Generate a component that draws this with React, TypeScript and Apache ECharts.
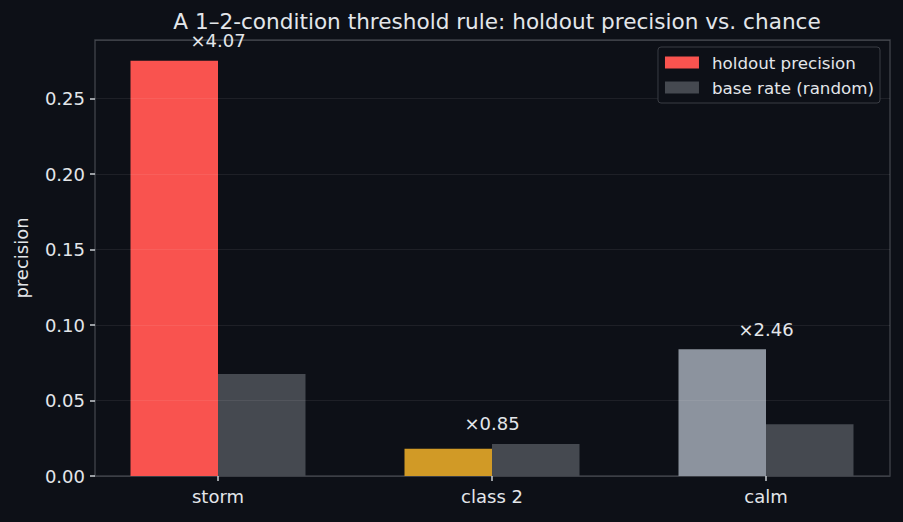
import { useEffect, useRef } from "react";
import * as echarts from "echarts";

const categories = ["storm", "class 2", "calm"];
const holdoutPrecision = [0.275, 0.018, 0.084];
const baseRate = [0.0676, 0.0212, 0.0342];
const liftLabels = ["×4.07", "×0.85", "×2.46"];
const precisionColors = ["#f9534f", "#d19a26", "#8c939e"];

const BG = "#0d1017";
const TEXT = "#e3e6ea";
const FONT = "DejaVu Sans";
const Y_MAX = 0.28875;

export default function App() {
  const chartRef = useRef<HTMLDivElement>(null);

  useEffect(() => {
    if (!chartRef.current) return;
    const chart = echarts.init(chartRef.current, undefined, { renderer: "svg" });

    chart.setOption({
      animation: false,
      backgroundColor: BG,
      textStyle: { fontFamily: FONT },
      title: {
        text: "A 1–2-condition threshold rule: holdout precision vs. chance",
        left: 492,
        textAlign: "center",
        top: 5,
        textStyle: { color: TEXT, fontSize: 21.6, fontWeight: "normal", fontFamily: FONT },
      },
      legend: {
        right: 23,
        top: 47,
        orient: "vertical",
        icon: "rect",
        itemWidth: 34,
        itemHeight: 12,
        itemGap: 8,
        padding: [7, 6, 7, 7],
        backgroundColor: BG,
        borderColor: "#3a3d44",
        borderWidth: 1,
        borderRadius: 3,
        textStyle: { color: TEXT, fontSize: 16.7, fontFamily: FONT, padding: [0, 0, 0, 8] },
        data: [
          { name: "holdout precision", itemStyle: { color: precisionColors[0] } },
          { name: "base rate (random)", itemStyle: { color: "#454950" } },
        ],
      },
      grid: [
        { left: 95, right: 13, top: 40, bottom: 46, show: true, borderColor: "#3a3d44", borderWidth: 1.5, backgroundColor: "transparent" },
        { left: 81, right: 0, top: 40, bottom: 46 },
      ],
      xAxis: [
        { gridIndex: 0, type: "value", min: 0, max: 1, show: false },
        {
          gridIndex: 1,
          type: "category",
          data: categories,
          axisLine: { show: false },
          axisTick: { show: true, alignWithLabel: true, length: 5, lineStyle: { color: "#c8ccd2", width: 1.5 } },
          axisLabel: { color: TEXT, fontSize: 18, margin: 11, fontFamily: FONT },
        },
      ],
      yAxis: [
        {
          gridIndex: 0,
          type: "value",
          min: 0,
          max: Y_MAX,
          interval: 0.05,
          z: 3,
          name: "precision",
          nameLocation: "middle",
          nameGap: 65,
          nameTextStyle: { color: TEXT, fontSize: 18, fontFamily: FONT },
          axisLine: { show: false },
          axisTick: { show: true, length: 5, lineStyle: { color: "#c8ccd2", width: 1.5 } },
          axisLabel: {
            color: TEXT,
            fontSize: 18,
            margin: 10,
            fontFamily: FONT,
            formatter: (v: number) => v.toFixed(2),
            showMaxLabel: false,
          },
          splitLine: { show: true, lineStyle: { color: "rgba(255,255,255,0.07)", width: 1 } },
        },
        { gridIndex: 1, type: "value", min: 0, max: Y_MAX, show: false },
      ],
      series: [
        {
          name: "holdout precision",
          type: "bar",
          xAxisIndex: 1,
          yAxisIndex: 1,
          barWidth: 87.5,
          barGap: "0%",
          data: holdoutPrecision.map((v, i) => ({ value: v, itemStyle: { color: precisionColors[i] } })),
        },
        {
          name: "base rate (random)",
          type: "bar",
          xAxisIndex: 1,
          yAxisIndex: 1,
          barWidth: 87.5,
          barGap: "0%",
          itemStyle: { color: "#454950" },
          data: baseRate,
        },
        {
          name: "lift",
          type: "scatter",
          xAxisIndex: 1,
          yAxisIndex: 1,
          symbolSize: 0,
          silent: true,
          itemStyle: { opacity: 1 },
          data: categories.map((c, i) => [c, Math.max(holdoutPrecision[i], baseRate[i])]),
          label: {
            show: true,
            position: "top",
            distance: 11,
            color: TEXT,
            opacity: 1,
            fontSize: 18,
            fontFamily: FONT,
            formatter: (p: any) => liftLabels[p.dataIndex],
          },
        },
      ],
    });

    return () => chart.dispose();
  }, []);

  return (
    <div
      ref={chartRef}
      style={{ position: "fixed", left: 0, top: 0, width: 903, height: 522 }}
    />
  );
}
